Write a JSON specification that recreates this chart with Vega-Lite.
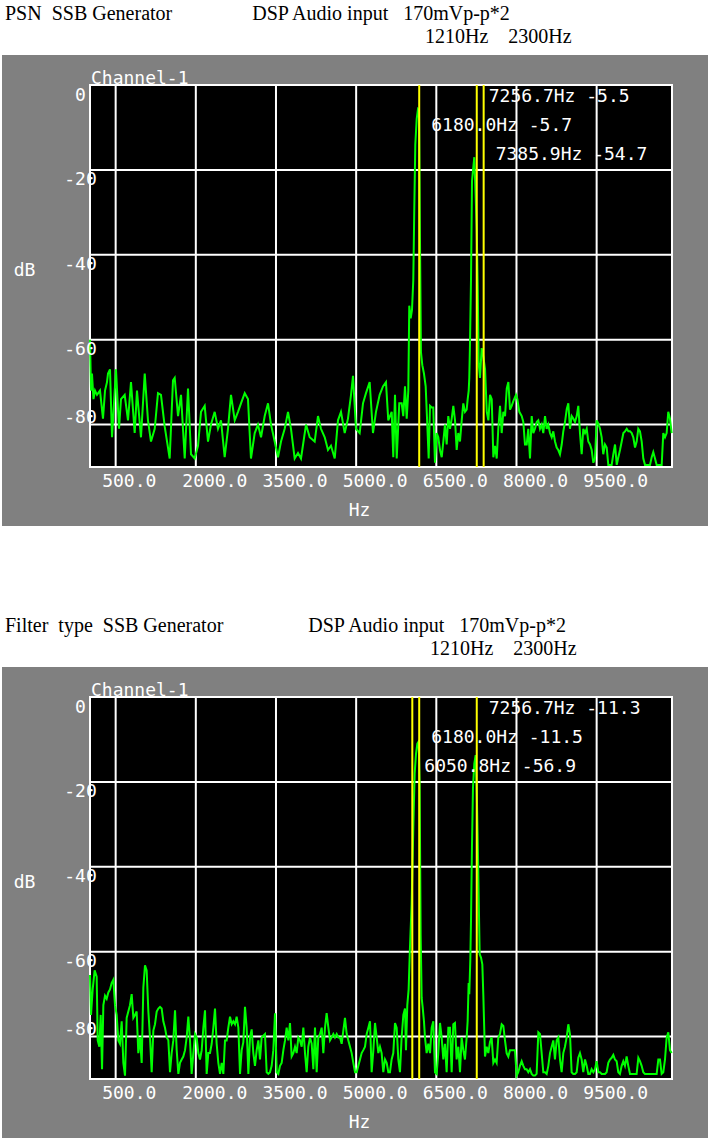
{
  "$schema": "https://vega.github.io/schema/vega-lite/v6.json",
  "background": "white",
  "padding": {"left": 2, "top": 4, "right": 8, "bottom": 4},
  "spacing": 90,
  "config": {
    "view": {"fill": "#808080", "stroke": null},
    "axis": {"labelColor": "white", "labelFont": "DejaVu Sans Mono", "labelFontSize": 18, "titleColor": "white", "titleFont": "DejaVu Sans Mono", "titleFontSize": 18, "titleFontWeight": "normal", "domain": false, "ticks": false, "grid": false},
    "text": {"font": "DejaVu Sans Mono", "fontSize": 18, "color": "white"}
  },
  "datasets": {
    "gridv": [{"f": 500}, {"f": 2000}, {"f": 3500}, {"f": 5000}, {"f": 6500}, {"f": 8000}, {"f": 9500}],
    "gridh": [{"db": -20}, {"db": -40}, {"db": -60}, {"db": -80}],
    "m1": [
      {"f": 7256.7, "row": 1, "label": "7256.7Hz -5.5"},
      {"f": 6180.0, "row": 2, "label": "6180.0Hz -5.7"},
      {"f": 7385.9, "row": 3, "label": "7385.9Hz -54.7"}
    ],
    "m2": [
      {"f": 7256.7, "row": 1, "label": "7256.7Hz -11.3"},
      {"f": 6180.0, "row": 2, "label": "6180.0Hz -11.5"},
      {"f": 6050.8, "row": 3, "label": "6050.8Hz -56.9"}
    ],
    "psn": [{"f":20,"db":-60},{"f":39,"db":-72},{"f":57,"db":-68},{"f":85,"db":-74},{"f":114,"db":-72},{"f":151,"db":-73},{"f":207,"db":-72},{"f":263,"db":-78.6},{"f":301,"db":-72},{"f":338,"db":-70},{"f":357,"db":-68},{"f":394,"db":-67},{"f":432,"db":-83},{"f":506,"db":-67},{"f":563,"db":-81},{"f":600,"db":-74},{"f":669,"db":-73},{"f":731,"db":-79},{"f":787,"db":-70},{"f":856,"db":-82},{"f":899,"db":-72},{"f":974,"db":-83},{"f":1044,"db":-68},{"f":1105,"db":-79},{"f":1161,"db":-84},{"f":1231,"db":-81},{"f":1292,"db":-72.6},{"f":1348,"db":-73},{"f":1418,"db":-80.5},{"f":1511,"db":-88},{"f":1573,"db":-69.6},{"f":1605,"db":-69},{"f":1667,"db":-78},{"f":1723,"db":-73},{"f":1792,"db":-88},{"f":1854,"db":-71.5},{"f":1910,"db":-87},{"f":1979,"db":-88},{"f":2041,"db":-85},{"f":2097,"db":-77},{"f":2166,"db":-75.6},{"f":2228,"db":-84},{"f":2284,"db":-80},{"f":2353,"db":-77},{"f":2415,"db":-81},{"f":2471,"db":-79},{"f":2540,"db":-87.7},{"f":2602,"db":-81},{"f":2658,"db":-73},{"f":2728,"db":-79},{"f":2789,"db":-77},{"f":2845,"db":-75},{"f":2915,"db":-72.6},{"f":2976,"db":-74},{"f":3032,"db":-88},{"f":3102,"db":-82},{"f":3163,"db":-80},{"f":3220,"db":-83},{"f":3289,"db":-78},{"f":3351,"db":-75},{"f":3407,"db":-80},{"f":3476,"db":-84},{"f":3538,"db":-87.7},{"f":3594,"db":-84},{"f":3663,"db":-81},{"f":3725,"db":-77},{"f":3781,"db":-81},{"f":3850,"db":-88},{"f":3912,"db":-86.7},{"f":3968,"db":-88},{"f":4062,"db":-80},{"f":4131,"db":-83},{"f":4224,"db":-84},{"f":4286,"db":-78},{"f":4342,"db":-81},{"f":4412,"db":-83},{"f":4473,"db":-86},{"f":4529,"db":-85},{"f":4599,"db":-88},{"f":4660,"db":-79},{"f":4716,"db":-77},{"f":4786,"db":-82},{"f":4847,"db":-78.6},{"f":4904,"db":-73},{"f":4941,"db":-68.5},{"f":4997,"db":-81},{"f":5066,"db":-82},{"f":5128,"db":-75},{"f":5184,"db":-72.6},{"f":5253,"db":-70},{"f":5315,"db":-82},{"f":5371,"db":-77},{"f":5440,"db":-73},{"f":5502,"db":-71},{"f":5558,"db":-70},{"f":5601,"db":-79},{"f":5665,"db":-77},{"f":5695,"db":-87.7},{"f":5727,"db":-73},{"f":5759,"db":-88},{"f":5807,"db":-75},{"f":5852,"db":-75},{"f":5882,"db":-78},{"f":5914,"db":-71},{"f":5946,"db":-78.6},{"f":5976,"db":-72},{"f":5994,"db":-52},{"f":6020,"db":-55},{"f":6045,"db":-53},{"f":6069,"db":-46},{"f":6088,"db":-29},{"f":6107,"db":-14},{"f":6133,"db":-8},{"f":6157,"db":-5.7},{"f":6176,"db":-6},{"f":6194,"db":-36},{"f":6213,"db":-63},{"f":6238,"db":-66},{"f":6269,"db":-68},{"f":6301,"db":-71},{"f":6331,"db":-80},{"f":6357,"db":-88},{"f":6382,"db":-75.6},{"f":6414,"db":-76},{"f":6443,"db":-76},{"f":6475,"db":-89},{"f":6507,"db":-82},{"f":6537,"db":-83},{"f":6569,"db":-86},{"f":6601,"db":-87.7},{"f":6631,"db":-84},{"f":6662,"db":-80},{"f":6694,"db":-84.7},{"f":6724,"db":-78},{"f":6756,"db":-81},{"f":6788,"db":-78.6},{"f":6818,"db":-75.6},{"f":6850,"db":-79},{"f":6881,"db":-86},{"f":6911,"db":-82},{"f":6943,"db":-84},{"f":6975,"db":-79},{"f":7005,"db":-75},{"f":7037,"db":-77},{"f":7068,"db":-76.5},{"f":7087,"db":-74},{"f":7106,"db":-72},{"f":7117,"db":-69},{"f":7130,"db":-61},{"f":7149,"db":-46},{"f":7168,"db":-22.6},{"f":7192,"db":-19.4},{"f":7211,"db":-17},{"f":7237,"db":-26.5},{"f":7256,"db":-34},{"f":7275,"db":-47.6},{"f":7293,"db":-65.6},{"f":7317,"db":-69},{"f":7349,"db":-62},{"f":7380,"db":-64},{"f":7412,"db":-67},{"f":7444,"db":-77},{"f":7474,"db":-79},{"f":7505,"db":-73},{"f":7537,"db":-74},{"f":7567,"db":-87.7},{"f":7599,"db":-85},{"f":7630,"db":-88},{"f":7660,"db":-81},{"f":7692,"db":-75.6},{"f":7723,"db":-82},{"f":7754,"db":-77},{"f":7786,"db":-78},{"f":7818,"db":-71.5},{"f":7848,"db":-70},{"f":7879,"db":-76.5},{"f":7911,"db":-75.6},{"f":7941,"db":-74.5},{"f":7991,"db":-73},{"f":8016,"db":-74},{"f":8053,"db":-77},{"f":8098,"db":-78},{"f":8128,"db":-79.4},{"f":8159,"db":-84.7},{"f":8191,"db":-84.7},{"f":8221,"db":-81},{"f":8253,"db":-88},{"f":8285,"db":-78},{"f":8315,"db":-82},{"f":8346,"db":-81},{"f":8378,"db":-79.4},{"f":8408,"db":-79},{"f":8440,"db":-81},{"f":8472,"db":-80},{"f":8502,"db":-82},{"f":8534,"db":-78},{"f":8565,"db":-81},{"f":8595,"db":-80},{"f":8627,"db":-82},{"f":8659,"db":-83},{"f":8689,"db":-81.6},{"f":8721,"db":-84},{"f":8752,"db":-85.4},{"f":8782,"db":-86},{"f":8814,"db":-87},{"f":8846,"db":-84.7},{"f":8876,"db":-81.6},{"f":8908,"db":-79.4},{"f":8940,"db":-76.4},{"f":8970,"db":-75},{"f":9001,"db":-81},{"f":9033,"db":-78},{"f":9063,"db":-78.6},{"f":9095,"db":-79.4},{"f":9127,"db":-78},{"f":9157,"db":-75.6},{"f":9188,"db":-82},{"f":9220,"db":-87},{"f":9250,"db":-81},{"f":9282,"db":-82},{"f":9314,"db":-81},{"f":9344,"db":-84},{"f":9376,"db":-84.7},{"f":9407,"db":-86},{"f":9438,"db":-89},{"f":9469,"db":-88},{"f":9501,"db":-79},{"f":9531,"db":-79.8},{"f":9563,"db":-81},{"f":9594,"db":-83},{"f":9624,"db":-87},{"f":9656,"db":-84.7},{"f":9688,"db":-85.4},{"f":9718,"db":-89.5},{"f":9750,"db":-89.5},{"f":9781,"db":-89.5},{"f":9812,"db":-87},{"f":9844,"db":-84.7},{"f":9876,"db":-89.5},{"f":9906,"db":-87.7},{"f":9937,"db":-86},{"f":9969,"db":-84},{"f":10000,"db":-82},{"f":10031,"db":-81.6},{"f":10063,"db":-81},{"f":10093,"db":-81.6},{"f":10124,"db":-81.6},{"f":10156,"db":-82},{"f":10186,"db":-83},{"f":10218,"db":-85.4},{"f":10249,"db":-84},{"f":10279,"db":-81},{"f":10311,"db":-81.6},{"f":10343,"db":-84},{"f":10373,"db":-88},{"f":10405,"db":-89.5},{"f":10436,"db":-89.5},{"f":10466,"db":-89.5},{"f":10498,"db":-89.5},{"f":10530,"db":-87.7},{"f":10560,"db":-86.5},{"f":10592,"db":-88},{"f":10623,"db":-89.5},{"f":10653,"db":-89.5},{"f":10685,"db":-89.5},{"f":10717,"db":-89.5},{"f":10747,"db":-82},{"f":10779,"db":-83},{"f":10810,"db":-82},{"f":10840,"db":-77},{"f":10872,"db":-78.6},{"f":10904,"db":-82}],
    "filt": [{"f":20,"db":-65.5},{"f":39,"db":-74.9},{"f":70,"db":-68.9},{"f":107,"db":-64.4},{"f":145,"db":-65.9},{"f":164,"db":-80.9},{"f":195,"db":-82.4},{"f":220,"db":-74.9},{"f":245,"db":-87.7},{"f":270,"db":-72.6},{"f":301,"db":-70.4},{"f":332,"db":-71.1},{"f":363,"db":-69.6},{"f":394,"db":-68.9},{"f":425,"db":-67.4},{"f":457,"db":-66.6},{"f":488,"db":-72.6},{"f":519,"db":-74.9},{"f":550,"db":-80.9},{"f":581,"db":-81.7},{"f":613,"db":-76.4},{"f":644,"db":-86.2},{"f":675,"db":-89.2},{"f":706,"db":-75.6},{"f":737,"db":-74.1},{"f":768,"db":-72.6},{"f":800,"db":-70},{"f":831,"db":-75.6},{"f":862,"db":-74.9},{"f":893,"db":-74.1},{"f":924,"db":-83.9},{"f":956,"db":-80.2},{"f":987,"db":-86.2},{"f":1018,"db":-68.5},{"f":1049,"db":-63.2},{"f":1080,"db":-64.4},{"f":1112,"db":-74.1},{"f":1143,"db":-80.2},{"f":1174,"db":-88.4},{"f":1205,"db":-78.6},{"f":1236,"db":-77.1},{"f":1268,"db":-74.1},{"f":1299,"db":-73.4},{"f":1330,"db":-73},{"f":1361,"db":-73.4},{"f":1392,"db":-76.4},{"f":1423,"db":-77.9},{"f":1455,"db":-80.2},{"f":1486,"db":-80.9},{"f":1517,"db":-88.4},{"f":1548,"db":-83.9},{"f":1579,"db":-80.9},{"f":1611,"db":-73.8},{"f":1642,"db":-83.2},{"f":1673,"db":-88.8},{"f":1704,"db":-86.2},{"f":1735,"db":-85.4},{"f":1766,"db":-84.7},{"f":1798,"db":-83.2},{"f":1829,"db":-80.2},{"f":1860,"db":-75.3},{"f":1891,"db":-80.9},{"f":1922,"db":-88.8},{"f":1954,"db":-83.9},{"f":1985,"db":-79.4},{"f":2016,"db":-80.2},{"f":2047,"db":-83.9},{"f":2078,"db":-85.4},{"f":2110,"db":-83.2},{"f":2141,"db":-77.9},{"f":2172,"db":-73.8},{"f":2203,"db":-88.8},{"f":2234,"db":-83.9},{"f":2265,"db":-83.9},{"f":2297,"db":-81.7},{"f":2328,"db":-77.9},{"f":2359,"db":-73.4},{"f":2390,"db":-81.7},{"f":2421,"db":-86.2},{"f":2453,"db":-88.8},{"f":2484,"db":-86.2},{"f":2515,"db":-88.8},{"f":2546,"db":-80.9},{"f":2577,"db":-80.9},{"f":2608,"db":-77.9},{"f":2640,"db":-75.3},{"f":2671,"db":-77.1},{"f":2702,"db":-76.4},{"f":2733,"db":-77.1},{"f":2764,"db":-75.3},{"f":2796,"db":-77.9},{"f":2827,"db":-88.8},{"f":2858,"db":-83.2},{"f":2889,"db":-81.3},{"f":2920,"db":-73},{"f":2951,"db":-77.9},{"f":2983,"db":-88.8},{"f":3014,"db":-80.2},{"f":3045,"db":-78.3},{"f":3076,"db":-83.9},{"f":3107,"db":-86.9},{"f":3139,"db":-83.2},{"f":3170,"db":-80.9},{"f":3201,"db":-85.4},{"f":3232,"db":-80.2},{"f":3263,"db":-79.8},{"f":3294,"db":-79.4},{"f":3326,"db":-88.4},{"f":3357,"db":-88.8},{"f":3388,"db":-88.4},{"f":3419,"db":-86.9},{"f":3450,"db":-83.2},{"f":3482,"db":-74.5},{"f":3513,"db":-88.4},{"f":3544,"db":-88.8},{"f":3575,"db":-86.9},{"f":3606,"db":-86.2},{"f":3638,"db":-83.2},{"f":3669,"db":-80.9},{"f":3700,"db":-77.9},{"f":3731,"db":-80.9},{"f":3762,"db":-76.8},{"f":3793,"db":-84.7},{"f":3825,"db":-83.9},{"f":3856,"db":-82.4},{"f":3887,"db":-83.9},{"f":3918,"db":-80.2},{"f":3949,"db":-80.9},{"f":3981,"db":-82.4},{"f":4012,"db":-77.9},{"f":4043,"db":-83.9},{"f":4074,"db":-88.4},{"f":4105,"db":-82.4},{"f":4137,"db":-80.2},{"f":4168,"db":-81.7},{"f":4199,"db":-87.7},{"f":4230,"db":-77.9},{"f":4261,"db":-88.4},{"f":4292,"db":-80.2},{"f":4324,"db":-79.4},{"f":4355,"db":-77.9},{"f":4386,"db":-83.9},{"f":4417,"db":-77.9},{"f":4448,"db":-74.5},{"f":4480,"db":-77.9},{"f":4511,"db":-80.9},{"f":4542,"db":-80.2},{"f":4573,"db":-79.4},{"f":4604,"db":-80.2},{"f":4636,"db":-79.4},{"f":4667,"db":-80.2},{"f":4698,"db":-80.2},{"f":4729,"db":-81.7},{"f":4760,"db":-78.6},{"f":4791,"db":-75.6},{"f":4823,"db":-79.4},{"f":4854,"db":-80.9},{"f":4885,"db":-82.4},{"f":4916,"db":-83.9},{"f":4947,"db":-86.2},{"f":4979,"db":-88.4},{"f":5010,"db":-88.4},{"f":5041,"db":-86.9},{"f":5072,"db":-85.4},{"f":5103,"db":-83.9},{"f":5134,"db":-83.2},{"f":5166,"db":-82.4},{"f":5197,"db":-79.4},{"f":5228,"db":-77.9},{"f":5259,"db":-76.4},{"f":5290,"db":-88.4},{"f":5322,"db":-83.2},{"f":5353,"db":-76.8},{"f":5384,"db":-80.2},{"f":5415,"db":-83.9},{"f":5446,"db":-82.4},{"f":5477,"db":-83.9},{"f":5508,"db":-88.4},{"f":5540,"db":-85.4},{"f":5571,"db":-86.2},{"f":5602,"db":-88.4},{"f":5633,"db":-88.4},{"f":5664,"db":-85.4},{"f":5695,"db":-83.9},{"f":5727,"db":-76.8},{"f":5758,"db":-77.9},{"f":5789,"db":-85.4},{"f":5820,"db":-88.4},{"f":5851,"db":-80.2},{"f":5883,"db":-74.9},{"f":5914,"db":-73.4},{"f":5932,"db":-83.2},{"f":5957,"db":-72.6},{"f":5982,"db":-68.9},{"f":6007,"db":-59},{"f":6038,"db":-48.8},{"f":6070,"db":-30.7},{"f":6095,"db":-18},{"f":6120,"db":-13.4},{"f":6145,"db":-11},{"f":6170,"db":-10.5},{"f":6188,"db":-21},{"f":6207,"db":-56},{"f":6226,"db":-70.9},{"f":6244,"db":-73},{"f":6269,"db":-76.4},{"f":6288,"db":-80.2},{"f":6319,"db":-83.9},{"f":6350,"db":-81.7},{"f":6382,"db":-83.9},{"f":6413,"db":-77.9},{"f":6444,"db":-76.4},{"f":6475,"db":-88.4},{"f":6506,"db":-88.8},{"f":6537,"db":-83.9},{"f":6569,"db":-76.8},{"f":6600,"db":-80.2},{"f":6631,"db":-85.4},{"f":6662,"db":-81.7},{"f":6693,"db":-88.4},{"f":6725,"db":-77.9},{"f":6756,"db":-77.9},{"f":6787,"db":-88.4},{"f":6818,"db":-77.1},{"f":6849,"db":-76.8},{"f":6880,"db":-85.4},{"f":6912,"db":-82.4},{"f":6943,"db":-88.4},{"f":6974,"db":-80.2},{"f":7005,"db":-83.2},{"f":7036,"db":-85.4},{"f":7068,"db":-80.2},{"f":7086,"db":-76.4},{"f":7105,"db":-67.4},{"f":7117,"db":-70},{"f":7136,"db":-62},{"f":7149,"db":-52.8},{"f":7167,"db":-35.4},{"f":7186,"db":-21.3},{"f":7211,"db":-15.7},{"f":7236,"db":-13.7},{"f":7255,"db":-21.3},{"f":7273,"db":-32.3},{"f":7292,"db":-46.5},{"f":7311,"db":-60.6},{"f":7336,"db":-61.4},{"f":7361,"db":-63},{"f":7380,"db":-70.4},{"f":7411,"db":-84.7},{"f":7442,"db":-82.4},{"f":7473,"db":-83.9},{"f":7504,"db":-81.3},{"f":7535,"db":-80.2},{"f":7567,"db":-86.2},{"f":7598,"db":-85.4},{"f":7629,"db":-86.2},{"f":7660,"db":-80.2},{"f":7691,"db":-79.4},{"f":7723,"db":-77.1},{"f":7754,"db":-77.5},{"f":7785,"db":-80.9},{"f":7816,"db":-83.9},{"f":7847,"db":-84.7},{"f":7878,"db":-83.2},{"f":7910,"db":-83.2},{"f":7941,"db":-83.2},{"f":7972,"db":-83.2},{"f":8003,"db":-89.2},{"f":8034,"db":-88.4},{"f":8065,"db":-86.9},{"f":8097,"db":-85.8},{"f":8128,"db":-86.9},{"f":8159,"db":-87.7},{"f":8190,"db":-87.7},{"f":8221,"db":-88.4},{"f":8253,"db":-87.7},{"f":8284,"db":-88.8},{"f":8315,"db":-89.2},{"f":8346,"db":-89.2},{"f":8377,"db":-88.8},{"f":8409,"db":-79},{"f":8440,"db":-79.4},{"f":8471,"db":-83.9},{"f":8502,"db":-88.4},{"f":8533,"db":-88.4},{"f":8565,"db":-88.8},{"f":8596,"db":-86.9},{"f":8627,"db":-83.9},{"f":8658,"db":-82.4},{"f":8689,"db":-80.9},{"f":8720,"db":-85.4},{"f":8752,"db":-80.9},{"f":8783,"db":-80.2},{"f":8814,"db":-85.4},{"f":8845,"db":-88.4},{"f":8876,"db":-83.9},{"f":8907,"db":-82.4},{"f":8939,"db":-80.2},{"f":8970,"db":-77.1},{"f":9001,"db":-79.4},{"f":9032,"db":-88.4},{"f":9063,"db":-88.8},{"f":9095,"db":-88.8},{"f":9126,"db":-88.4},{"f":9157,"db":-85},{"f":9188,"db":-83.9},{"f":9219,"db":-85.4},{"f":9250,"db":-88.4},{"f":9282,"db":-85.4},{"f":9313,"db":-86.9},{"f":9344,"db":-88.8},{"f":9375,"db":-88.8},{"f":9406,"db":-87.7},{"f":9438,"db":-88.4},{"f":9469,"db":-87.7},{"f":9500,"db":-85.8},{"f":9531,"db":-88.4},{"f":9562,"db":-88.4},{"f":9594,"db":-88.8},{"f":9625,"db":-88.8},{"f":9656,"db":-88.8},{"f":9687,"db":-88.4},{"f":9718,"db":-86.2},{"f":9749,"db":-85.4},{"f":9781,"db":-85},{"f":9812,"db":-84.3},{"f":9843,"db":-85.4},{"f":9874,"db":-85.8},{"f":9905,"db":-88.4},{"f":9936,"db":-88.8},{"f":9968,"db":-86.9},{"f":9999,"db":-85.8},{"f":10030,"db":-86.9},{"f":10061,"db":-84.7},{"f":10092,"db":-86.9},{"f":10124,"db":-88.8},{"f":10155,"db":-88.8},{"f":10186,"db":-88.8},{"f":10217,"db":-88.8},{"f":10248,"db":-88.8},{"f":10280,"db":-85},{"f":10311,"db":-85.8},{"f":10342,"db":-86.9},{"f":10373,"db":-88.4},{"f":10404,"db":-88.8},{"f":10436,"db":-88.8},{"f":10467,"db":-88.8},{"f":10498,"db":-88.8},{"f":10529,"db":-88.8},{"f":10560,"db":-88.8},{"f":10591,"db":-88.8},{"f":10623,"db":-88.8},{"f":10654,"db":-85.4},{"f":10685,"db":-85.4},{"f":10716,"db":-88.8},{"f":10747,"db":-88.4},{"f":10779,"db":-85.4},{"f":10810,"db":-80.2},{"f":10841,"db":-79},{"f":10872,"db":-83.2},{"f":10904,"db":-83.9}]
  },
  "vconcat": [
    {
      "width": 706,
      "height": 471,
      "title": {
        "text": [
          "PSN\u00a0\u00a0SSB Generator\u00a0\u00a0\u00a0\u00a0\u00a0\u00a0\u00a0\u00a0\u00a0\u00a0\u00a0\u00a0\u00a0\u00a0\u00a0\u00a0DSP Audio input\u00a0\u00a0\u00a0170mVp-p*2",
          "\u200b\u00a0\u00a0\u00a0\u00a0\u00a0\u00a0\u00a0\u00a0\u00a0\u00a0\u00a0\u00a0\u00a0\u00a0\u00a0\u00a0\u00a0\u00a0\u00a0\u00a0\u00a0\u00a0\u00a0\u00a0\u00a0\u00a0\u00a0\u00a0\u00a0\u00a0\u00a0\u00a0\u00a0\u00a0\u00a0\u00a0\u00a0\u00a0\u00a0\u00a0\u00a0\u00a0\u00a0\u00a0\u00a0\u00a0\u00a0\u00a0\u00a0\u00a0\u00a0\u00a0\u00a0\u00a0\u00a0\u00a0\u00a0\u00a0\u00a0\u00a0\u00a0\u00a0\u00a0\u00a0\u00a0\u00a0\u00a0\u00a0\u00a0\u00a0\u00a0\u00a0\u00a0\u00a0\u00a0\u00a0\u00a0\u00a0\u00a0\u00a0\u00a0\u00a0\u00a0\u00a01210Hz\u00a0\u00a0\u00a0\u00a02300Hz"
        ],
        "anchor": "start", "frame": "group", "dx": 3, "font": "Liberation Serif", "fontSize": 20, "fontWeight": "normal", "color": "black", "lineHeight": 23, "offset": 8
      },
      "layer": [
        {"data": {"values": [{}]}, "mark": {"type": "rect", "fill": "black", "stroke": "white", "strokeWidth": 2},
         "encoding": {"x": {"datum": 20, "type": "quantitative"}, "x2": {"datum": 10910}, "y": {"datum": -90, "type": "quantitative"}, "y2": {"datum": 0}}},
        {"data": {"name": "gridv"}, "mark": {"type": "rule", "color": "white", "strokeWidth": 2},
         "encoding": {"x": {"field": "f", "type": "quantitative", "title": "Hz"}, "y": {"datum": -90, "type": "quantitative"}, "y2": {"datum": 0}}},
        {"data": {"name": "gridh"}, "mark": {"type": "rule", "color": "white", "strokeWidth": 2},
         "encoding": {"y": {"field": "db", "type": "quantitative", "title": "dB"}, "x": {"datum": 20, "type": "quantitative"}, "x2": {"datum": 10910}}},
        {"data": {"name": "psn"}, "mark": {"type": "line", "color": "#00ff00", "strokeWidth": 2},
         "encoding": {
           "x": {"field": "f", "type": "quantitative", "title": "Hz", "scale": {"domain": [-1626.6, 11583.6], "nice": false, "zero": false},
                 "axis": {"zindex": 1, "values": [500, 2000, 3500, 5000, 6500, 8000, 9500], "labelExpr": "format(datum.value, '.1f')", "offset": -59, "labelAlign": "left", "labelOffset": -14, "labelPadding": 5, "labelBaseline": "top", "labelFlush": false, "labelOverlap": false, "titleX": 357, "titleY": 43, "titleAlign": "center", "titleBaseline": "middle"}},
           "y": {"field": "db", "type": "quantitative", "title": "dB", "scale": {"domain": [-103.9, 7.07], "nice": false, "zero": false},
                 "axis": {"zindex": 1, "values": [0, -20, -40, -60, -80], "labelExpr": "'' + datum.value", "offset": -88, "labelAlign": "center", "labelBaseline": "middle", "labelPadding": 10, "labelOffset": {"condition": {"test": "datum.value === -80", "value": -7}, "value": 10}, "labelFlush": false, "labelOverlap": false, "titleAngle": 0, "titleX": -66, "titleY": 215, "titleAlign": "center", "titleBaseline": "middle"}}
         }},
        {"data": {"name": "m1"}, "mark": {"type": "rule", "color": "#ffff00", "strokeWidth": 2},
         "encoding": {"x": {"field": "f", "type": "quantitative", "title": "Hz"}, "y": {"datum": -90, "type": "quantitative"}, "y2": {"datum": 0}}},
        {"data": {"name": "m1"}, "mark": {"type": "text", "align": "left", "baseline": "middle", "dx": 12},
         "encoding": {"x": {"field": "f", "type": "quantitative", "title": "Hz"}, "y": {"datum": 0, "type": "quantitative"},
                      "yOffset": {"field": "row", "type": "quantitative", "scale": {"domain": [1, 3], "range": [12, 70]}},
                      "text": {"field": "label"}}},
        {"data": {"values": [{}]}, "mark": {"type": "text", "text": "Channel-1", "align": "left", "baseline": "alphabetic", "dx": 1, "dy": -1},
         "encoding": {"x": {"datum": 20, "type": "quantitative"}, "y": {"datum": 0, "type": "quantitative"}}}
      ]
    },
    {
      "width": 706,
      "height": 471,
      "title": {
        "text": [
          "Filter\u00a0\u00a0type\u00a0\u00a0SSB Generator\u00a0\u00a0\u00a0\u00a0\u00a0\u00a0\u00a0\u00a0\u00a0\u00a0\u00a0\u00a0\u00a0\u00a0\u00a0\u00a0\u00a0DSP Audio input\u00a0\u00a0\u00a0170mVp-p*2",
          "\u200b\u00a0\u00a0\u00a0\u00a0\u00a0\u00a0\u00a0\u00a0\u00a0\u00a0\u00a0\u00a0\u00a0\u00a0\u00a0\u00a0\u00a0\u00a0\u00a0\u00a0\u00a0\u00a0\u00a0\u00a0\u00a0\u00a0\u00a0\u00a0\u00a0\u00a0\u00a0\u00a0\u00a0\u00a0\u00a0\u00a0\u00a0\u00a0\u00a0\u00a0\u00a0\u00a0\u00a0\u00a0\u00a0\u00a0\u00a0\u00a0\u00a0\u00a0\u00a0\u00a0\u00a0\u00a0\u00a0\u00a0\u00a0\u00a0\u00a0\u00a0\u00a0\u00a0\u00a0\u00a0\u00a0\u00a0\u00a0\u00a0\u00a0\u00a0\u00a0\u00a0\u00a0\u00a0\u00a0\u00a0\u00a0\u00a0\u00a0\u00a0\u00a0\u00a0\u00a0\u00a0\u00a01210Hz\u00a0\u00a0\u00a0\u00a02300Hz"
        ],
        "anchor": "start", "frame": "group", "dx": 3, "font": "Liberation Serif", "fontSize": 20, "fontWeight": "normal", "color": "black", "lineHeight": 23, "offset": 8
      },
      "layer": [
        {"data": {"values": [{}]}, "mark": {"type": "rect", "fill": "black", "stroke": "white", "strokeWidth": 2},
         "encoding": {"x": {"datum": 20, "type": "quantitative"}, "x2": {"datum": 10910}, "y": {"datum": -90, "type": "quantitative"}, "y2": {"datum": 0}}},
        {"data": {"name": "gridv"}, "mark": {"type": "rule", "color": "white", "strokeWidth": 2},
         "encoding": {"x": {"field": "f", "type": "quantitative", "title": "Hz"}, "y": {"datum": -90, "type": "quantitative"}, "y2": {"datum": 0}}},
        {"data": {"name": "gridh"}, "mark": {"type": "rule", "color": "white", "strokeWidth": 2},
         "encoding": {"y": {"field": "db", "type": "quantitative", "title": "dB"}, "x": {"datum": 20, "type": "quantitative"}, "x2": {"datum": 10910}}},
        {"data": {"name": "filt"}, "mark": {"type": "line", "color": "#00ff00", "strokeWidth": 2},
         "encoding": {
           "x": {"field": "f", "type": "quantitative", "title": "Hz", "scale": {"domain": [-1626.6, 11583.6], "nice": false, "zero": false},
                 "axis": {"zindex": 1, "values": [500, 2000, 3500, 5000, 6500, 8000, 9500], "labelExpr": "format(datum.value, '.1f')", "offset": -59, "labelAlign": "left", "labelOffset": -14, "labelPadding": 5, "labelBaseline": "top", "labelFlush": false, "labelOverlap": false, "titleX": 357, "titleY": 43, "titleAlign": "center", "titleBaseline": "middle"}},
           "y": {"field": "db", "type": "quantitative", "title": "dB", "scale": {"domain": [-103.9, 7.07], "nice": false, "zero": false},
                 "axis": {"zindex": 1, "values": [0, -20, -40, -60, -80], "labelExpr": "'' + datum.value", "offset": -88, "labelAlign": "center", "labelBaseline": "middle", "labelPadding": 10, "labelOffset": {"condition": {"test": "datum.value === -80", "value": -7}, "value": 10}, "labelFlush": false, "labelOverlap": false, "titleAngle": 0, "titleX": -66, "titleY": 215, "titleAlign": "center", "titleBaseline": "middle"}}
         }},
        {"data": {"name": "m2"}, "mark": {"type": "rule", "color": "#ffff00", "strokeWidth": 2},
         "encoding": {"x": {"field": "f", "type": "quantitative", "title": "Hz"}, "y": {"datum": -90, "type": "quantitative"}, "y2": {"datum": 0}}},
        {"data": {"name": "m2"}, "mark": {"type": "text", "align": "left", "baseline": "middle", "dx": 12},
         "encoding": {"x": {"field": "f", "type": "quantitative", "title": "Hz"}, "y": {"datum": 0, "type": "quantitative"},
                      "yOffset": {"field": "row", "type": "quantitative", "scale": {"domain": [1, 3], "range": [12, 70]}},
                      "text": {"field": "label"}}},
        {"data": {"values": [{}]}, "mark": {"type": "text", "text": "Channel-1", "align": "left", "baseline": "alphabetic", "dx": 1, "dy": -1},
         "encoding": {"x": {"datum": 20, "type": "quantitative"}, "y": {"datum": 0, "type": "quantitative"}}}
      ]
    }
  ]
}
